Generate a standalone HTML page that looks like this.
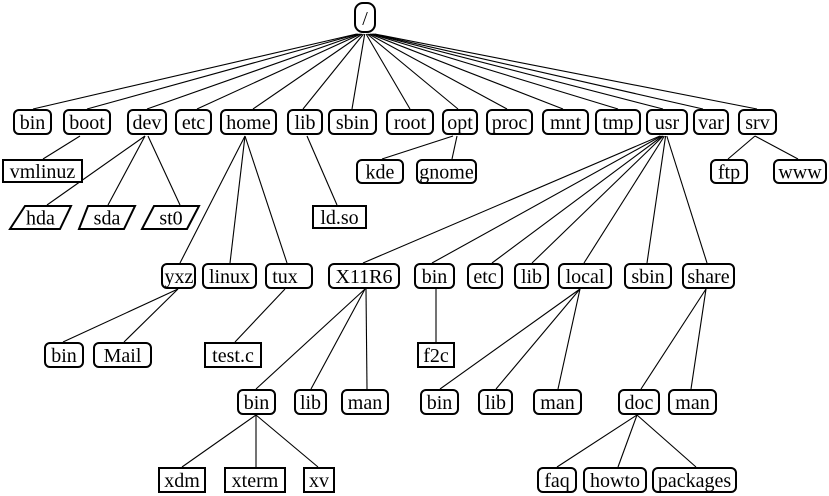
<!DOCTYPE html>
<html><head><meta charset="utf-8"><style>
html,body{margin:0;padding:0;background:#fff;}
svg{display:block;font-family:"Liberation Serif","Noto Serif CJK SC","DejaVu Serif",serif;font-size:20px;}
text{text-anchor:middle;fill:#000;}
.n{fill:#fff;stroke:#000;stroke-width:2;}
.e line{stroke:#000;stroke-width:1.1;}
</style></head><body>
<svg width="829" height="496" viewBox="0 0 829 496" xmlns="http://www.w3.org/2000/svg">
<g class="e">
<line x1="356.7" y1="34" x2="33" y2="109"/><line x1="358" y1="34" x2="87" y2="109"/>
<line x1="359.5" y1="34" x2="147" y2="109"/><line x1="360.8" y1="34" x2="197" y2="109"/>
<line x1="362.2" y1="34" x2="253" y2="109"/><line x1="363.5" y1="34" x2="303" y2="109"/>
<line x1="364.7" y1="34" x2="352" y2="109"/><line x1="366.1" y1="34" x2="410" y2="109"/>
<line x1="367.3" y1="34" x2="458" y2="109"/><line x1="368.5" y1="34" x2="507" y2="109"/>
<line x1="370" y1="34" x2="563" y2="109"/><line x1="371.3" y1="34" x2="618" y2="109"/>
<line x1="372.5" y1="34" x2="663" y2="109"/><line x1="373.5" y1="34" x2="703" y2="109"/>
<line x1="374.8" y1="34" x2="757" y2="109"/>
<line x1="80" y1="136" x2="43" y2="159"/>
<line x1="145" y1="136" x2="47" y2="205"/><line x1="145" y1="136" x2="108" y2="205"/>
<line x1="148" y1="136" x2="180" y2="205"/>
<line x1="245" y1="136" x2="180" y2="263"/><line x1="245" y1="136" x2="230" y2="263"/>
<line x1="245" y1="136" x2="287" y2="263"/>
<line x1="307" y1="136" x2="337" y2="205"/>
<line x1="453" y1="136" x2="382" y2="159"/><line x1="457" y1="136" x2="452" y2="159"/>
<line x1="755" y1="136" x2="728" y2="159"/><line x1="755" y1="136" x2="798" y2="159"/>
<line x1="660" y1="136" x2="363" y2="263"/><line x1="661.3" y1="136" x2="432" y2="263"/>
<line x1="662.5" y1="136" x2="492" y2="263"/><line x1="663.3" y1="136" x2="532" y2="263"/>
<line x1="664.4" y1="136" x2="584" y2="263"/><line x1="665.6" y1="136" x2="647" y2="263"/>
<line x1="666.8" y1="136" x2="707" y2="263"/>
<line x1="178" y1="289" x2="63" y2="342"/><line x1="178" y1="289" x2="124" y2="342"/>
<line x1="285" y1="289" x2="235" y2="342"/>
<line x1="365" y1="289" x2="256" y2="389"/><line x1="365" y1="289" x2="311" y2="389"/>
<line x1="366" y1="289" x2="367" y2="389"/>
<line x1="436" y1="289" x2="436" y2="342"/>
<line x1="580" y1="289" x2="440" y2="389"/><line x1="580" y1="289" x2="496" y2="389"/>
<line x1="580" y1="289" x2="558" y2="389"/>
<line x1="706" y1="289" x2="641" y2="389"/><line x1="706" y1="289" x2="691" y2="389"/>
<line x1="256" y1="415" x2="182" y2="467"/><line x1="256" y1="415" x2="256" y2="467"/>
<line x1="256" y1="415" x2="318" y2="467"/>
<line x1="637" y1="415" x2="557" y2="467"/><line x1="637" y1="415" x2="618" y2="467"/>
<line x1="637" y1="415" x2="696" y2="467"/>
</g>
<rect class="n" x="355" y="3" width="20" height="29" rx="8"/><text x="365" y="25">/</text>
<rect class="n" x="14" y="110" width="37" height="24" rx="5"/><text x="32.5" y="129">bin</text>
<rect class="n" x="64" y="110" width="46" height="24" rx="5"/><text x="87" y="129">boot</text>
<rect class="n" x="128" y="110" width="38" height="24" rx="5"/><text x="147" y="129">dev</text>
<rect class="n" x="176" y="110" width="35" height="24" rx="5"/><text x="193.5" y="129">etc</text>
<rect class="n" x="221" y="110" width="55" height="24" rx="5"/><text x="248.5" y="129">home</text>
<rect class="n" x="288" y="110" width="34" height="24" rx="5"/><text x="305" y="129">lib</text>
<rect class="n" x="329" y="110" width="47" height="24" rx="5"/><text x="352.5" y="129">sbin</text>
<rect class="n" x="387" y="110" width="46" height="24" rx="5"/><text x="410" y="129">root</text>
<rect class="n" x="443" y="110" width="34" height="24" rx="5"/><text x="460" y="129">opt</text>
<rect class="n" x="487" y="110" width="45" height="24" rx="5"/><text x="509.5" y="129">proc</text>
<rect class="n" x="543" y="110" width="45" height="24" rx="5"/><text x="565.5" y="129">mnt</text>
<rect class="n" x="596" y="110" width="44" height="24" rx="5"/><text x="618" y="129">tmp</text>
<rect class="n" x="647" y="110" width="40" height="24" rx="5"/><text x="667" y="129">usr</text>
<rect class="n" x="694" y="110" width="34" height="24" rx="5"/><text x="711" y="129">var</text>
<rect class="n" x="739" y="110" width="37" height="24" rx="5"/><text x="757.5" y="129">srv</text>
<rect class="n" x="3" y="160" width="79" height="22"/><text x="42.5" y="178">vmlinuz</text>
<rect class="n" x="357" y="160" width="46" height="23" rx="5"/><text x="380" y="178.5">kde</text>
<rect class="n" x="417" y="160" width="59" height="23" rx="5"/><text x="446.5" y="178.5">gnome</text>
<rect class="n" x="711" y="160" width="36" height="23" rx="5"/><text x="729" y="178.5">ftp</text>
<rect class="n" x="774" y="160" width="52" height="23" rx="5"/><text x="800" y="178.5">www</text>
<polygon class="n" points="25,206 71,206 60,229 10,229"/><text x="40.5" y="224.5">hda</text>
<polygon class="n" points="88,206 135,206 124,229 79,229"/><text x="107" y="224.5">sda</text>
<polygon class="n" points="154,206 199,206 187,229 142,229"/><text x="171" y="224.5">st0</text>
<rect class="n" x="313" y="206" width="53" height="22"/><text x="339.5" y="224">ld.so</text>
<rect class="n" x="162" y="264" width="33" height="24" rx="5"/><text x="179" y="283">yxz</text>
<rect class="n" x="203" y="264" width="53" height="24" rx="5"/><text x="229.5" y="283">linux</text>
<rect class="n" x="266" y="264" width="46" height="24" rx="5"/><text x="285" y="283">tux</text>
<rect class="n" x="329" y="264" width="70" height="24" rx="5"/><text x="364" y="283">X11R6</text>
<rect class="n" x="415" y="264" width="39" height="24" rx="5"/><text x="434.5" y="283">bin</text>
<rect class="n" x="468" y="264" width="34" height="24" rx="5"/><text x="485" y="283">etc</text>
<rect class="n" x="515" y="264" width="33" height="24" rx="5"/><text x="531.5" y="283">lib</text>
<rect class="n" x="559" y="264" width="52" height="24" rx="5"/><text x="585" y="283">local</text>
<rect class="n" x="625" y="264" width="46" height="24" rx="5"/><text x="648" y="283">sbin</text>
<rect class="n" x="683" y="264" width="51" height="24" rx="5"/><text x="708.5" y="283">share</text>
<rect class="n" x="45" y="343" width="38" height="24" rx="5"/><text x="64" y="362">bin</text>
<rect class="n" x="94" y="343" width="57" height="24" rx="5"/><text x="122.5" y="362">Mail</text>
<rect class="n" x="205" y="343" width="56" height="24"/><text x="233" y="362">test.c</text>
<rect class="n" x="418" y="343" width="36" height="24"/><text x="436" y="362">f2c</text>
<rect class="n" x="238" y="390" width="37" height="24" rx="5"/><text x="256.5" y="409">bin</text>
<rect class="n" x="295" y="390" width="31" height="24" rx="5"/><text x="310.5" y="409">lib</text>
<rect class="n" x="342" y="390" width="46" height="24" rx="5"/><text x="365" y="409">man</text>
<rect class="n" x="421" y="390" width="37" height="24" rx="5"/><text x="439.5" y="409">bin</text>
<rect class="n" x="479" y="390" width="33" height="24" rx="5"/><text x="495.5" y="409">lib</text>
<rect class="n" x="534" y="390" width="47" height="24" rx="5"/><text x="557.5" y="409">man</text>
<rect class="n" x="619" y="390" width="40" height="24" rx="5"/><text x="639" y="409">doc</text>
<rect class="n" x="669" y="390" width="47" height="24" rx="5"/><text x="692.5" y="409">man</text>
<rect class="n" x="159" y="468" width="46" height="24"/><text x="182" y="487">xdm</text>
<rect class="n" x="225" y="468" width="60" height="24"/><text x="255" y="487">xterm</text>
<rect class="n" x="304" y="468" width="30" height="24"/><text x="319" y="487">xv</text>
<rect class="n" x="538" y="468" width="38" height="24" rx="5"/><text x="557" y="487">faq</text>
<rect class="n" x="584" y="468" width="62" height="24" rx="5"/><text x="615" y="487">howto</text>
<rect class="n" x="653" y="468" width="83" height="24" rx="5"/><text x="694.5" y="487">packages</text>
</svg>
</body></html>
